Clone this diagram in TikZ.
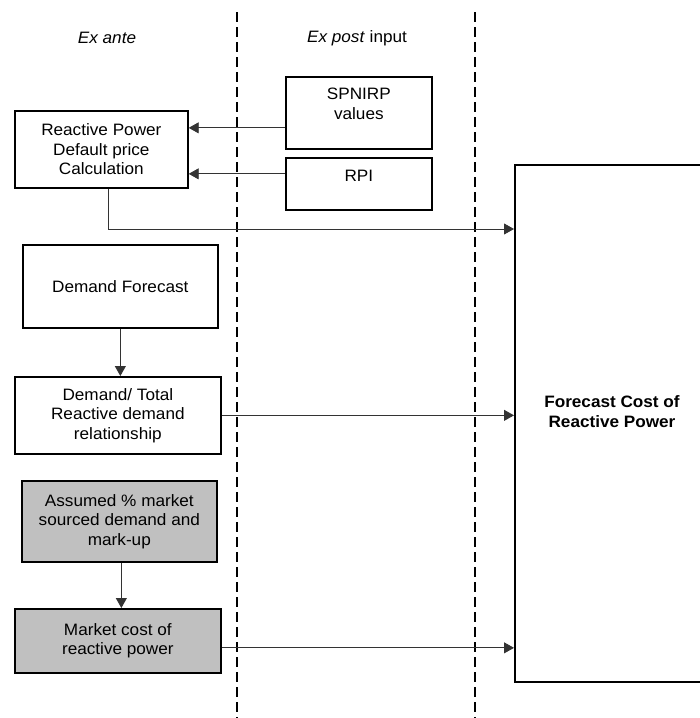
\documentclass[tikz,border=0pt]{standalone}
\usepackage{fontspec}
\setmainfont{Liberation Sans}[FakeStretch=1.04]
\usetikzlibrary{arrows.meta}
\definecolor{boxgray}{HTML}{C0C0C0}
\begin{document}
\begin{tikzpicture}[x=1pt,y=-1pt,
  txt/.style={font=\fontsize{16.5}{19.5}\selectfont, align=center, inner sep=0pt},
  box/.style={draw=black, line width=1.7pt, rectangle, inner sep=0pt, anchor=north west,
    font=\fontsize{16.5}{19.5}\selectfont, align=center},
  graybox/.style={box, fill=boxgray},
  conn/.style={line width=0.9pt, draw=black!80},
  arr/.style={conn, -{Triangle[length=10pt,width=11pt]}},
  divider/.style={line width=1.5pt, dash pattern=on 10pt off 5pt}
]
\useasboundingbox (0,0) rectangle (700,718);
% dividers
\coordinate (d1t) at (237,12);
\coordinate (d1b) at (237,718);
\coordinate (d2t) at (475,12);
\coordinate (d2b) at (475,718);
\draw[divider] (d1t) -- (d1b);
\draw[divider] (d2t) -- (d2b);
% headings
\node[txt] (exante) at (107,38) {\textit{Ex ante}};
\node[txt] (expost) at (357,38) {\textit{Ex post} input};
% boxes
\node[box, minimum width=173pt, minimum height=77pt] (rp) at (14,110) {Reactive Power\\Default price\\Calculation};
\node[box, minimum width=146pt, minimum height=72pt] (sp) at (285,76) {};
\node[txt, anchor=north] (spt) at ([yshift=-12pt]sp.north) {SPNIRP\\values};
\node[box, minimum width=146pt, minimum height=52pt] (rpi) at (285,157) {};
\node[txt, anchor=north] (rpit) at ([yshift=-13pt]rpi.north) {RPI};
\node[box, minimum width=195pt, minimum height=83pt] (df) at (22,244) {Demand Forecast};
\node[box, minimum width=206pt, minimum height=77pt] (dt) at (14,376) {Demand/ Total\\Reactive demand\\relationship};
\node[graybox, minimum width=195pt, minimum height=81pt] (as) at (21,480) {Assumed \% market\\sourced demand and\\mark-up};
\node[graybox, minimum width=206pt, minimum height=64pt] (mk) at (14,608) {Market cost of\\reactive power};
\begin{scope}
\clip (0,0) rectangle (700,718);
\node[box, line width=2pt, minimum width=196pt, minimum height=517pt] (fc) at (514,164) {};
\end{scope}
\node[txt, font=\fontsize{16.5}{20}\selectfont\bfseries] (fct) at (612,412) {Forecast Cost of\\Reactive Power};
% connectors
\draw[arr] ([yshift=-15pt]sp.west) -- ([yshift=-15pt]sp.west -| rp.east);
\draw[arr] ([yshift=10pt]rpi.west) -- ([yshift=10pt]rpi.west -| rp.east);
\coordinate (rpout) at ([xshift=7.5pt]rp.south);
\coordinate (fcin1) at ([yshift=-65pt]fc.north west);
\draw[arr] (rpout) |- (fcin1);
\draw[arr] (df.south) -- (df.south |- dt.north);
\draw[arr] (dt.east) -- (dt.east -| fc.west);
\draw[arr] ([xshift=2pt]as.south) -- ([xshift=2pt]as.south |- mk.north);
\draw[arr] ([yshift=-7pt]mk.east) -- ([yshift=-7pt]mk.east -| fc.west);
\end{tikzpicture}
\end{document}
